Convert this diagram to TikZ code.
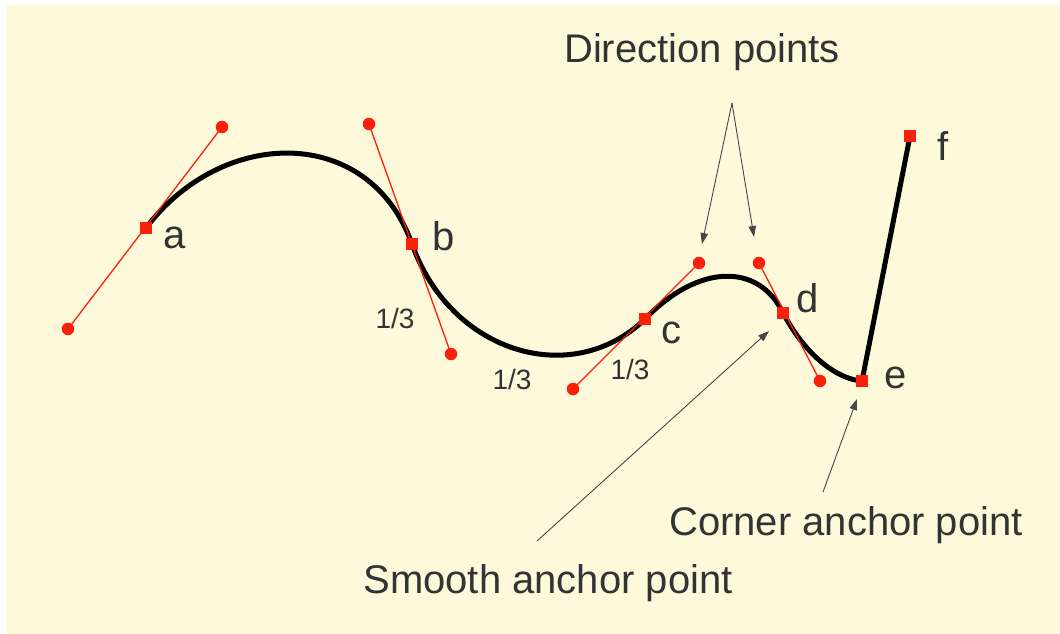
\documentclass[tikz,border=0pt]{standalone}
\usepackage{fontspec}
\setmainfont{Liberation Sans}
\usepackage{xcolor}
\definecolor{bgyellow}{RGB}{255,249,220}
\definecolor{ptred}{RGB}{250,32,10}
\definecolor{txtgray}{RGB}{51,51,51}
\definecolor{arrgray}{RGB}{70,70,70}
\usetikzlibrary{arrows.meta, positioning}

\begin{document}
\begin{tikzpicture}[x=1pt, y=-1pt,
  curve/.style={black, line width=5pt, line join=round},
  handleline/.style={ptred, line width=1.3pt},
  anchorpt/.style={rectangle, fill=ptred, minimum size=12pt, inner sep=0pt},
  handlept/.style={circle, fill=ptred, minimum size=12.5pt, inner sep=0pt},
  ptlabel/.style={text=txtgray, font=\fontsize{40}{44}\selectfont},
  thirdlabel/.style={text=txtgray, font=\fontsize{28}{30}\selectfont},
  callout/.style={text=txtgray, font=\fontsize{40}{44}\selectfont, anchor=base},
  pointer/.style={arrgray, line width=0.9pt, -{Triangle[length=11pt, width=7.5pt]}}]

% === Background ===
\useasboundingbox (0,0) rectangle (1060,634);
\fill[white] (0,0) rectangle (1060,634);
\fill[bgyellow] (6,5) rectangle (1060,634);

% === Anchor and direction point positions ===
\coordinate (a) at (146,228);
\coordinate (ain) at (68,329);
\coordinate (aout) at (222,127);
\coordinate (b) at (412,244);
\coordinate (bin) at (369,124);
\coordinate (bout) at (451,354);
\coordinate (c) at (645,319);
\coordinate (cin) at (573,389);
\coordinate (cout) at (699,263);
\coordinate (d) at (783,313);
\coordinate (din) at (759,263);
\coordinate (dout) at (820,381);
\coordinate (e) at (862,381);
\coordinate (f) at (910,136);

% === The path ===
\draw[curve] (a) .. controls (aout) and (bin) .. (b)
  .. controls (bout) and (cin) .. (c)
  .. controls (cout) and (din) .. (d)
  .. controls (dout) and (e) .. (e) -- (f);

% Direction lines
\draw[handleline] (ain) -- (aout);
\draw[handleline] (bin) -- (bout);
\draw[handleline] (cin) -- (cout);
\draw[handleline] (din) -- (dout);

% Direction points
\foreach \h in {ain,aout,bin,bout,cin,cout,din,dout}
  \node[handlept] (m\h) at (\h) {};

% Anchor points
\foreach \p in {a,b,c,d,e,f}
  \node[anchorpt] (m\p) at (\p) {};

% === Letters ===
\node[ptlabel] (la) at (175,238) {a};
\node[ptlabel] (lb) at (444,236) {b};
\node[ptlabel] (lc) at (671,333) {c};
\node[ptlabel] (ld) at (808,298) {d};
\node[ptlabel] (le) at (896,378) {e};
\node[ptlabel] (lf) at (943,146) {f};

% One-third marks
\node[thirdlabel] (t1) at (395,318) {1/3};
\node[thirdlabel] (t2) at (512,379) {1/3};
\node[thirdlabel] (t3) at (630,369) {1/3};

% === Callouts ===
\node[callout] (dirpts) at (702,63) {Direction points};
\node[callout] (smooth) at (548,593) {Smooth anchor point};
\node[callout] (corner) at (846,535) {Corner anchor point};

\coordinate (dirtail) at (732,103);
\coordinate (smoothtail) at (537,541);
\coordinate (cornertail) at (823,492);
\coordinate (cintip) at (702,244);
\coordinate (dintip) at (754,237);
\coordinate (dtip) at (769,331);
\coordinate (etip) at (857,399);

\draw[pointer] (dirtail) -- (cintip);
\draw[pointer] (dirtail) -- (dintip);
\draw[pointer] (smoothtail) -- (dtip);
\draw[pointer] (cornertail) -- (etip);

\end{tikzpicture}
\end{document}
